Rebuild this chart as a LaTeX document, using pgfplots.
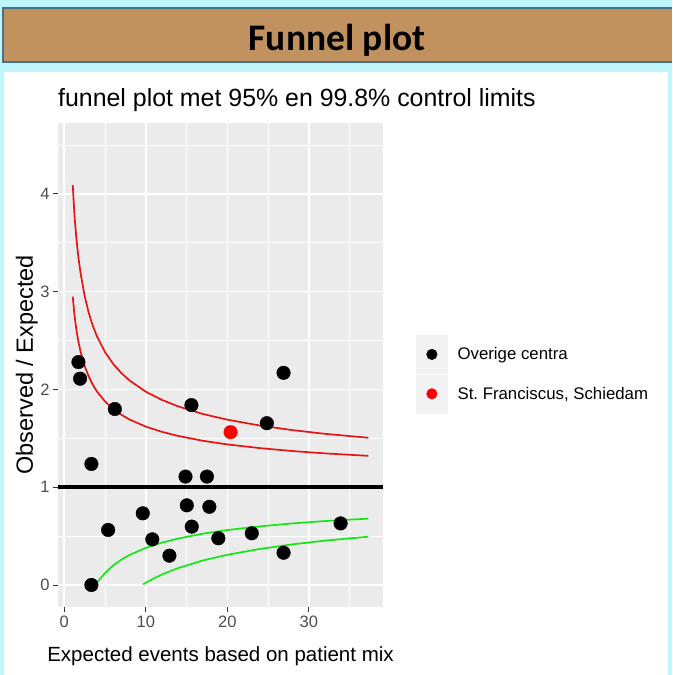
\documentclass[border=0pt]{standalone}
\usepackage{fontspec}
\setmainfont{Liberation Sans}
\newfontfamily\calibri{Carlito}
\usepackage{pgfplots}
\pgfplotsset{compat=1.18}
\definecolor{bgblue}{RGB}{190,246,252}
\definecolor{hdr}{RGB}{193,146,95}
\definecolor{hdrline}{RGB}{70,115,135}
\definecolor{panel}{RGB}{235,235,235}
\definecolor{ticklab}{RGB}{77,77,77}
\definecolor{tickc}{RGB}{51,51,51}
\definecolor{keybg}{RGB}{242,242,242}
\definecolor{lgreen}{RGB}{20,232,20}
\definecolor{lred}{RGB}{230,20,20}
\begin{document}
\begin{tikzpicture}[x=1pt,y=1pt]
\fill[bgblue] (0,0) rectangle (672,-675);
\fill[hdr] (3,-8) rectangle (672,-62);
\draw[hdrline, line width=1.2pt] (672,-8) -- (3,-8) -- (3,-62) -- (672,-62);
\node[font=\calibri\bfseries\fontsize{37.5}{42}\selectfont, anchor=base, inner sep=0pt] at (337,-50) {Funnel plot};
\fill[white] (4,-72) rectangle (668,-675);
\node[anchor=base west, inner sep=0pt, font=\fontsize{24.9}{28}\selectfont] at (58,-106) {funnel plot met 95\% en 99.8\% control limits};
\begin{axis}[
  at={(58pt,-607pt)}, anchor=south west,
  scale only axis, width=325pt, height=484pt,
  xmin=-0.77, xmax=39.1, ymin=-0.225, ymax=4.725,
  axis background/.style={fill=panel},
  axis line style={draw=none},
  xtick={0,10,20,30}, ytick={0,1,2,3,4},
  minor xtick={5,15,25,35}, minor ytick={0.5,1.5,2.5,3.5,4.5},
  grid=both,
  major grid style={white, line width=1.6pt},
  minor grid style={white, line width=0.8pt},
  tick style={tickc, line width=1pt},
  major tick length=5pt, minor tick length=0pt,
  tick align=outside,
  xtick pos=bottom, ytick pos=left,
  ticklabel style={font=\fontsize{16.5}{19}\selectfont, text=ticklab},
  /pgf/number format/assume math mode=true,
  xlabel={Expected events based on patient mix},
  ylabel={Observed / Expected},
  xlabel style={at={(axis description cs:0.5,-0.1136)}, anchor=base, inner sep=0pt, font=\fontsize{20.5}{24}\selectfont},
  ylabel style={at={(axis description cs:-0.077,0.5)}, anchor=base, inner sep=0pt, font=\fontsize{23.5}{26}\selectfont},
  legend style={at={(axis description cs:1.1015,0.562)}, anchor=north west, draw=none, fill=none, inner sep=0pt, row sep=1pt, column sep=10pt, nodes={inner sep=0pt, font=\fontsize{16.8}{19}\selectfont, text=black}},
  legend cell align=left,
  legend image code/.code={
    \fill[keybg] (0pt,-19pt) rectangle (31pt,19pt);
    \draw[#1, mark size=5.3pt] plot coordinates {(15.5pt,0pt)};
  },
]
% upper 99.8% limit
\addplot[lred, line width=1.7pt, forget plot] coordinates {
(1.04,4.09) (1.25,3.78) (1.5,3.53) (1.75,3.34) (2,3.19) (2.5,2.955) (3,2.784) (3.5,2.652) (4,2.545) (5,2.382) (6,2.261) (7,2.168) (8,2.092) (10,1.977) (12,1.892) (14,1.826) (17,1.749) (20,1.691) (24,1.631) (28,1.584) (32,1.546) (37.3,1.506)};
% upper 95% limit
\addplot[lred, line width=1.7pt, forget plot] coordinates {
(1.04,2.95) (1.25,2.76) (1.5,2.60) (1.75,2.482) (2,2.386) (2.5,2.240) (3,2.132) (3.5,2.048) (4,1.980) (5,1.877) (6,1.800) (7,1.741) (8,1.693) (10,1.620) (12,1.566) (14,1.524) (17,1.475) (20,1.438) (24,1.400) (28,1.370) (32,1.346) (37.3,1.321)};
% lower 95% limit
\addplot[lgreen, line width=1.7pt, forget plot] coordinates {
(4,0.025) (5,0.123) (6,0.200) (7,0.259) (8,0.307) (10,0.380) (12,0.434) (14,0.476) (17,0.525) (20,0.562) (24,0.600) (28,0.630) (32,0.654) (37.3,0.679)};
% lower 99.8% limit
\addplot[lgreen, line width=1.7pt, forget plot] coordinates {
(9.67,0.006) (10,0.023) (11,0.068) (12,0.108) (14,0.174) (17,0.251) (20,0.309) (24,0.369) (28,0.416) (32,0.454) (37.3,0.494)};
% reference line
\addplot[black, line width=3.8pt, forget plot] coordinates {(-0.77,1) (39.1,1)};
% centres
\addplot[only marks, mark=*, mark size=6.8pt, black] coordinates {
(1.74,2.28) (1.94,2.11) (6.2,1.80) (15.6,1.84) (26.9,2.17) (24.85,1.655)
(3.33,1.238) (14.87,1.109) (17.5,1.109) (15.03,0.815) (17.8,0.80) (9.63,0.733)
(5.38,0.563) (15.64,0.597) (10.8,0.467) (18.9,0.478) (23.0,0.529) (12.9,0.30)
(26.9,0.33) (33.9,0.63) (3.33,0.0)};
\addlegendentry{Overige centra}
\addplot[only marks, mark=*, mark size=6.8pt, red] coordinates {(20.4,1.563)};
\addlegendentry{St.\ Franciscus, Schiedam}
\end{axis}
\end{tikzpicture}
\end{document}
